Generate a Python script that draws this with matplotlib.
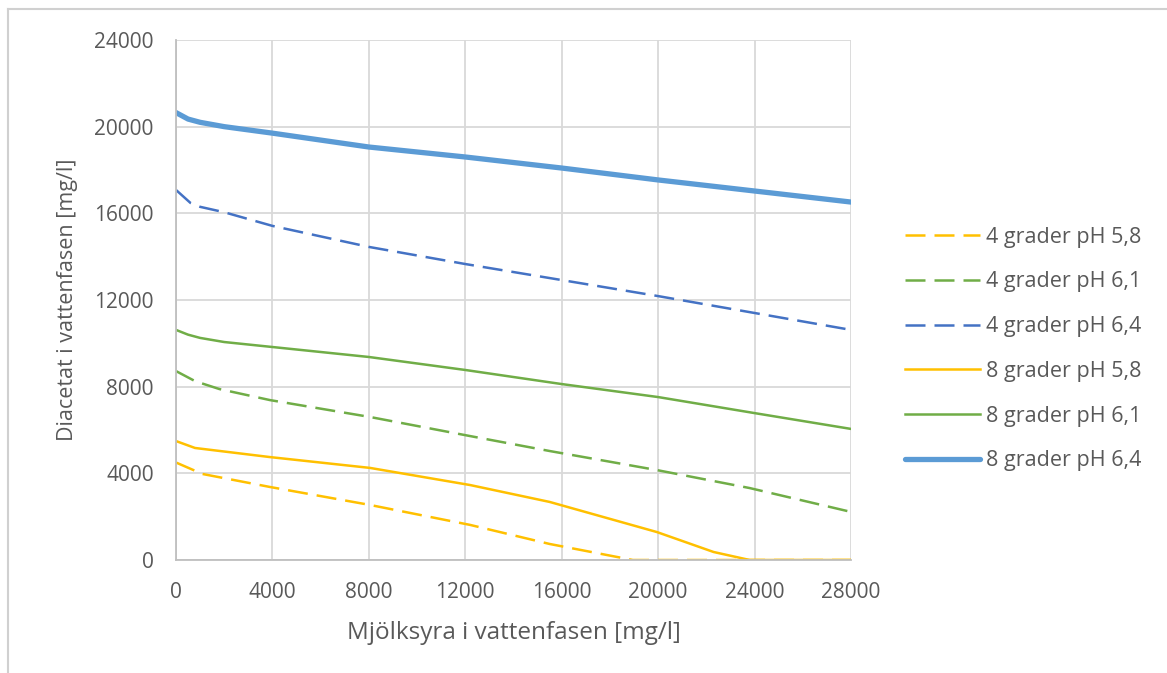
import matplotlib.pyplot as plt
from matplotlib.lines import Line2D

# Mjölksyra (x) och diacetat (y)
x_4_58 = [0, 1100, 3900, 8050, 12200, 15500, 18950, 28000]
y_4_58 = [4500, 3970, 3370, 2540, 1620, 740, 0, 0]

x_4_61 = [0, 800, 1800, 3900, 8050, 12200, 15500, 19950, 23800, 28000]
y_4_61 = [8720, 8250, 7890, 7380, 6600, 5720, 5030, 4150, 3320, 2220]

x_4_64 = [0, 600, 1000, 2000, 4000, 8000, 12000, 16000, 20000, 24000, 28000]
y_4_64 = [17080, 16480, 16300, 16050, 15420, 14450, 13660, 12920, 12180, 11400, 10620]

x_8_58 = [0, 790, 3900, 8050, 12200, 15500, 19950, 22300, 23800, 28000]
y_8_58 = [5490, 5170, 4750, 4250, 3460, 2680, 1290, 370, 0, 0]

x_8_61 = [0, 500, 1000, 2000, 4000, 8000, 12000, 16000, 20000, 24000, 28000]
y_8_61 = [10620, 10400, 10250, 10060, 9830, 9370, 8770, 8120, 7520, 6780, 6050]

x_8_64 = [0, 500, 1000, 2000, 4000, 8000, 12000, 16000, 20000, 24000, 28000]
y_8_64 = [20650, 20350, 20200, 20000, 19700, 19060, 18600, 18090, 17540, 17030, 16520]

plt.rcParams["font.family"] = ["Open Sans", "DejaVu Sans"]
grå = "#595959"

fig = plt.figure(figsize=(11.67, 6.73), dpi=100)
ax = fig.add_axes([0.1508, 0.1679, 0.5784, 0.7727])

# ram (bara vänster och överkant syns i bilden)
fig.add_artist(Line2D([8 / 1167, 8 / 1167], [0, 1 - 9 / 673], transform=fig.transFigure, color="#d0d0d0", lw=1.5))
fig.add_artist(Line2D([8 / 1167, 1], [1 - 9 / 673, 1 - 9 / 673], transform=fig.transFigure, color="#d0d0d0", lw=1.5))

streck = (0, (8, 3.6))
ax.plot(x_4_58, y_4_58, color="#FFC000", lw=1.8, linestyle=streck, label="4 grader pH 5,8")
ax.plot(x_4_61, y_4_61, color="#70AD47", lw=1.8, linestyle=streck, label="4 grader pH 6,1")
ax.plot(x_4_64, y_4_64, color="#4472C4", lw=1.8, linestyle=streck, label="4 grader pH 6,4")
ax.plot(x_8_58, y_8_58, color="#FFC000", lw=1.8, label="8 grader pH 5,8")
ax.plot(x_8_61, y_8_61, color="#70AD47", lw=1.8, label="8 grader pH 6,1")
ax.plot(x_8_64, y_8_64, color="#5B9BD5", lw=3.8, solid_capstyle="round", label="8 grader pH 6,4")

ax.set_xlim(0, 28000)
ax.set_ylim(0, 24000)
ax.set_xticks(range(0, 28001, 4000))
ax.set_yticks(range(0, 24001, 4000))
ax.grid(True, color="#d9d9d9", linewidth=1.3)
ax.set_axisbelow(True)
for s in ["top", "right"]:
    ax.spines[s].set_visible(False)
for s in ["left", "bottom"]:
    ax.spines[s].set_color("#bfbfbf")
    ax.spines[s].set_linewidth(1.3)
ax.tick_params(length=0, labelsize=15, labelcolor=grå)
ax.tick_params(axis="x", pad=16)
ax.tick_params(axis="y", pad=16)

ax.set_xlabel("Mjölksyra i vattenfasen [mg/l]", fontsize=17.5, color=grå, labelpad=13)
ax.set_ylabel("Diacetat i vattenfasen [mg/l]", fontsize=15.5, color=grå, labelpad=12)

leg = ax.legend(loc="upper left", bbox_to_anchor=(905 / 1167, 0.663), bbox_transform=fig.transFigure,
                frameon=False, fontsize=15.5, labelspacing=1.1, handlelength=3.5, handletextpad=0.28,
                borderpad=0, borderaxespad=0)
for t in leg.get_texts():
    t.set_color(grå)

fig.savefig("out.png", dpi=100)
